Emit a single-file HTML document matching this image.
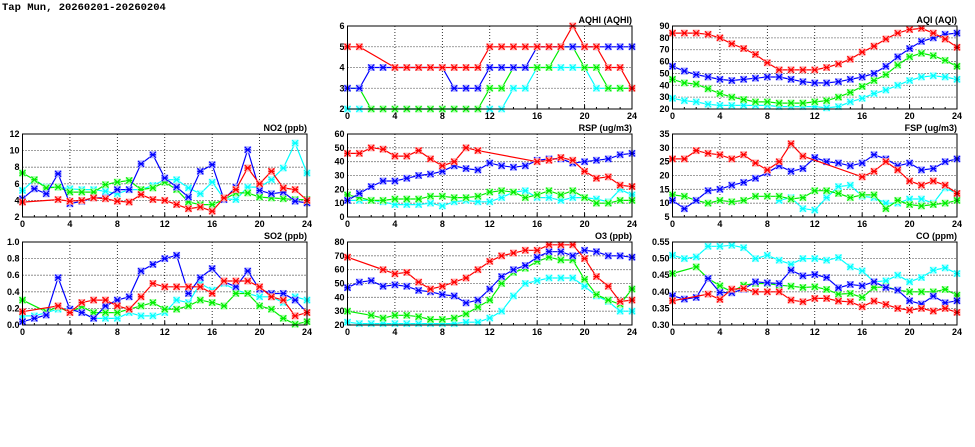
<!DOCTYPE html>
<html><head><meta charset="utf-8"><style>
html,body{margin:0;padding:0;background:#fff;}
svg{display:block;}
text{font-family:"Liberation Sans",sans-serif;font-weight:bold;font-size:9px;fill:#000;}
</style></head><body>
<svg id="chart" width="975" height="447" viewBox="0 0 975 447" xmlns="http://www.w3.org/2000/svg">
<text x="2" y="10" style="font-family:'Liberation Mono',monospace;font-size:10.5px;">Tap Mun, 20260201-20260204</text>
</svg>
<script>
const hours=[0,1,2,3,4,5,6,7,8,9,10,11,12,13,14,15,16,17,18,19,20,21,22,23,24];
const xTicks=[0,4,8,12,16,20,24];
const N=null;
const panelTitles=["AQHI (AQHI)","AQI (AQI)","NO2 (ppb)","RSP (ug/m3)","FSP (ug/m3)","SO2 (ppb)","O3 (ppb)","CO (ppm)"];
const aqhiTicks=[2,3,4,5,6];
const aqhiRed=[5,5,N,N,4,4,4,4,4,4,4,4,5,5,5,5,5,5,5,6,5,5,4,4,3];
const aqhiBlue=[3,3,4,4,4,4,4,4,4,3,3,3,4,4,4,4,5,5,5,5,5,5,5,5,5];
const aqhiGreen=[3,3,2,2,2,2,2,2,2,2,2,2,3,3,4,4,4,4,5,5,4,4,3,3,3];
const aqhiCyan=[2,2,2,2,2,2,2,2,2,2,2,2,2,2,3,3,4,4,4,4,4,3,3,3,3];
const aqiTicks=[20,30,40,50,60,70,80,90];
const aqiRed=[84,84,84,83,80,75,71,66,59,53,53,53,53,55,58,62,68,73,79,84,87,88,84,79,72];
const aqiBlue=[56,52,49,47,45,44,45,46,47,47,45,43,42,42,43,45,47,50,56,64,71,77,80,83,84];
const aqiGreen=[45,42,41,37,33,30,28,26,26,25,25,25,26,27,30,34,39,44,49,57,64,67,65,61,56];
const aqiCyan=[29,27,26,24,23,23,23,23,23,22,22,22,22,21,22,26,29,33,36,40,44,47,48,47,45];
const no2Ticks=[2,4,6,8,10,12];
const no2Red=[3.8,N,N,4.1,3.9,4.0,4.3,4.2,3.9,3.8,4.7,4.1,4.0,3.5,3.0,3.2,2.7,4.3,5.3,7.9,6.0,7.5,5.5,5.3,4.0];
const no2Blue=[4.2,5.4,4.8,7.2,3.6,3.9,4.3,4.3,5.3,5.3,8.4,9.5,6.7,5.6,4.4,7.5,8.3,4.1,5.6,10.1,5.2,4.8,5.0,3.9,3.7];
const no2Green=[7.3,6.5,5.5,5.6,5.0,5.0,5.0,5.9,6.2,6.4,5.3,5.5,6.2,5.3,3.8,3.5,3.5,4.1,4.9,4.9,4.4,4.3,4.2,4.1,4.1];
const no2Cyan=[5.2,6.5,5.6,5.6,5.4,5.3,5.3,5.1,4.8,5.3,5.3,5.8,6.5,6.5,5.5,4.8,6.2,4.2,4.1,5.6,5.6,6.5,7.9,10.9,7.3];
const rspTicks=[0,10,20,30,40,50,60];
const rspRed=[46,46,50,49,44,44,48,42,37,40,50,48,N,N,N,N,40,41,43,41,33,28,29,23,22];
const rspBlue=[12,17,22,26,26,28,30,31,33,37,35,34,39,37,36,37,41,42,42,39,40,41,42,45,46];
const rspGreen=[16,14,12,12,13,13,13,15,15,14,14,15,18,19,18,14,16,19,16,19,14,10,10,12,12];
const rspCyan=[12,12,12,11,9,9,9,10,8,11,12,11,11,14,18,19,14,14,12,14,14,13,11,20,16];
const fspTicks=[5,10,15,20,25,30,35];
const fspRed=[26,26,29,28,27.5,26,27.5,24.5,22,25,31.5,27,N,N,N,N,19.5,21.5,25,22,18,16.5,18,16.5,13.5];
const fspBlue=[11,8,11,14.5,15,16.5,17.5,19,21,23.5,21.5,22.5,26.5,25,24.5,23.5,24.5,27.5,26,23.5,24.5,22,22.5,25,26];
const fspGreen=[13,12.5,11,10,11,10.5,11,12.5,12.5,12.5,11.5,12,14.5,14.5,13.5,12,13,13,8,11,9.5,9,9.5,10,11];
const fspCyan=[N,N,N,N,N,N,N,N,N,11,12,8,7.5,12,16,16.5,12.5,12,10,10,11.5,11.5,10,15.5,13.5];
const so2Ticks=[0.0,0.2,0.4,0.6,0.8,1.0];
const so2Red=[0.16,N,N,0.23,0.15,0.27,0.30,0.30,0.23,0.19,0.34,0.50,0.46,0.46,0.46,0.46,0.38,0.53,0.53,0.53,0.46,0.34,0.30,0.11,0.15];
const so2Blue=[0.04,0.08,0.12,0.57,0.19,0.15,0.08,0.23,0.30,0.34,0.65,0.73,0.80,0.84,0.38,0.57,0.68,0.52,0.46,0.65,0.43,0.38,0.38,0.30,0.15];
const so2Green=[0.30,N,0.16,0.22,0.15,0.22,0.15,0.15,0.15,0.19,0.23,0.27,0.19,0.19,0.23,0.30,0.27,0.23,0.38,0.38,0.23,0.19,0.08,0.01,0.04];
const so2Cyan=[0.11,0.11,0.15,0.19,0.19,0.15,0.08,0.08,0.08,0.15,0.11,0.11,0.15,0.30,0.27,0.50,0.42,0.50,0.42,0.38,0.34,0.34,0.27,0.34,0.30];
const o3Ticks=[20,30,40,50,60,70,80];
const o3Red=[69,N,N,60,57,58,51,46,48,51,54,60,66,70,72,74,74,78,78,78,68,55,48,37,38];
const o3Blue=[47,51,52,48,49,48,45,44,42,41,36,38,46,55,60,63,69,73,73,70,74,73,70,70,69];
const o3Green=[30,N,27,25,27,27,26,24,24,25,28,33,38,50,58,61,66,69,67,67,53,42,38,35,46];
const o3Cyan=[22,21,21,21,21,21,21,21,21,21,22,22,25,30,41,50,52,54,54,54,48,41,37,30,30];
const coTicks=[0.30,0.35,0.40,0.45,0.50,0.55];
const coRed=[0.373,N,N,0.393,0.377,0.408,0.410,0.400,0.400,0.400,0.375,0.370,0.380,0.380,0.372,0.370,0.355,0.372,0.362,0.350,0.345,0.350,0.342,0.350,0.338];
const coBlue=[0.388,0.378,0.383,0.440,0.398,0.397,0.408,0.430,0.427,0.425,0.465,0.448,0.452,0.443,0.412,0.422,0.418,0.430,0.413,0.405,0.373,0.363,0.387,0.367,0.373];
const coGreen=[0.455,N,0.475,0.440,0.418,0.400,0.420,0.425,0.425,0.420,0.417,0.413,0.415,0.407,0.393,0.395,0.383,0.413,0.415,0.405,0.400,0.400,0.400,0.407,0.390];
const coCyan=[0.510,0.500,0.505,0.537,0.537,0.540,0.533,0.500,0.510,0.495,0.483,0.500,0.500,0.495,0.503,0.475,0.463,0.430,0.433,0.450,0.430,0.443,0.465,0.472,0.455];

const NS="http://www.w3.org/2000/svg";
const svg=document.getElementById('chart');
function mk(tag,attrs,parent){const e=document.createElementNS(NS,tag);for(const k in attrs)e.setAttribute(k,attrs[k]);(parent||svg).appendChild(e);return e;}
const colX=[22.5,347.5,672.5], rowY=[26,134,242], PW=284.5, PH=83;
const colors={cyan:["#00ffff","#b0ffff"],green:["#00ee00","#b0ffb0"],blue:["#0000ff","#b0b0ff"],red:["#ff0000","#ffb0b0"]};
const panels=[
 {c:1,r:0,title:panelTitles[0],ticks:aqhiTicks,fmt:v=>String(v),s:{cyan:aqhiCyan,green:aqhiGreen,blue:aqhiBlue,red:aqhiRed},id:'aqhi'},
 {c:2,r:0,title:panelTitles[1],ticks:aqiTicks,fmt:v=>String(v),s:{cyan:aqiCyan,green:aqiGreen,blue:aqiBlue,red:aqiRed},id:'aqi'},
 {c:0,r:1,title:panelTitles[2],ticks:no2Ticks,fmt:v=>String(v),s:{cyan:no2Cyan,green:no2Green,blue:no2Blue,red:no2Red},id:'no2'},
 {c:1,r:1,title:panelTitles[3],ticks:rspTicks,fmt:v=>String(v),s:{cyan:rspCyan,green:rspGreen,blue:rspBlue,red:rspRed},id:'rsp'},
 {c:2,r:1,title:panelTitles[4],ticks:fspTicks,fmt:v=>String(v),s:{cyan:fspCyan,green:fspGreen,blue:fspBlue,red:fspRed},id:'fsp'},
 {c:0,r:2,title:panelTitles[5],ticks:so2Ticks,fmt:v=>v.toFixed(1),s:{cyan:so2Cyan,green:so2Green,blue:so2Blue,red:so2Red},id:'so2'},
 {c:1,r:2,title:panelTitles[6],ticks:o3Ticks,fmt:v=>String(v),s:{cyan:o3Cyan,green:o3Green,blue:o3Blue,red:o3Red},id:'o3'},
 {c:2,r:2,title:panelTitles[7],ticks:coTicks,fmt:v=>v.toFixed(2),s:{cyan:coCyan,green:coGreen,blue:coBlue,red:coRed},id:'co'}
];
panels.forEach(p=>{
 const x0=colX[p.c], y0=rowY[p.r];
 const lo=p.ticks[0], hi=p.ticks[p.ticks.length-1];
 const xs=h=>x0+h/24*PW;
 const ys=v=>y0+PH-(v-lo)/(hi-lo)*PH;
 const g=mk('g',{});
 
 
 // grid
 xTicks.forEach(t=>{
  if(t>0&&t<24){const l=mk('line',{x1:xs(t),x2:xs(t),y1:y0,y2:y0+PH,stroke:'#000','stroke-width':0.8,'stroke-dasharray':'1,2'},g);
  }
  const tl=mk('text',{x:xs(t),y:y0+PH+10,'text-anchor':'middle'},g);tl.textContent=t;
  
 });
 hours.forEach(h=>{const l=mk('line',{x1:xs(h),x2:xs(h),y1:y0+PH,y2:y0+PH-(h%4===0?4:2),stroke:'#000','stroke-width':1},g);
  });
 p.ticks.forEach(t=>{
  if(t>lo&&t<hi){const l=mk('line',{x1:x0,x2:x0+PW,y1:ys(t),y2:ys(t),stroke:'#000','stroke-width':0.8,'stroke-dasharray':'1,2'},g);
  }
  const tl=mk('text',{x:x0-3,y:ys(t)+3,'text-anchor':'end'},g);tl.textContent=p.fmt(t);
  
 });
 const tt=mk('text',{x:x0+PW,y:y0-3,'text-anchor':'end'},g);tt.textContent=p.title;
 
 ['cyan','green','blue','red'].forEach(k=>{
  const arr=p.s[k];const [c,lc]=colors[k];
  const pts=[];arr.forEach((v,i)=>{if(v!==null)pts.push([xs(hours[i]),ys(v)]);});
  const pl=mk('polyline',{points:pts.map(q=>q[0].toFixed(1)+','+q[1].toFixed(1)).join(' '),fill:'none',stroke:c,'stroke-width':1.2},g);
  
  pts.forEach(q=>{
   const m=mk('g',{},g);
   
   mk('rect',{x:q[0]-3.5,y:q[1]-3.5,width:7,height:7,fill:lc},m);
   mk('path',{d:`M${q[0]-3},${q[1]-3}L${q[0]+3},${q[1]+3}M${q[0]-3},${q[1]+3}L${q[0]+3},${q[1]-3}M${q[0]-3},${q[1]}L${q[0]+3},${q[1]}`,stroke:c,'stroke-width':1.2},m);
  });
 });
 const b=mk('rect',{x:x0,y:y0,width:PW,height:PH,fill:'none',stroke:'#000','stroke-width':1},g);
 
});
</script>
</body></html>
